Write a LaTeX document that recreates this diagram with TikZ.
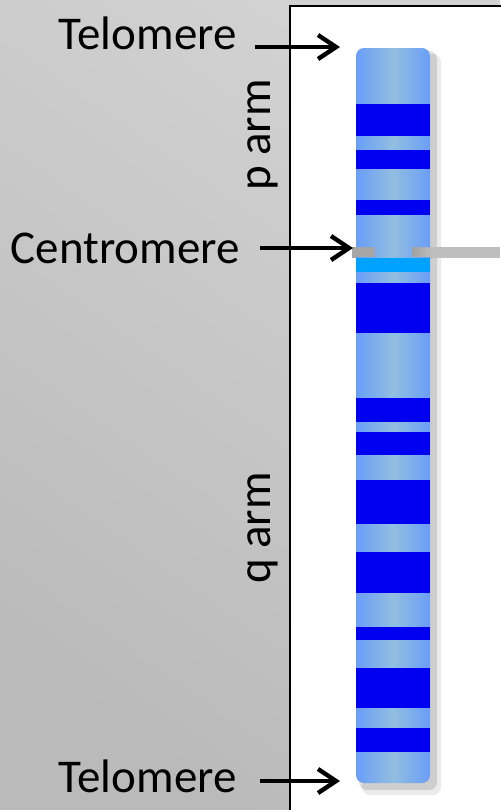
\documentclass[tikz,border=0pt]{standalone}
\usepackage{fontspec}
\setmainfont{Carlito}
\usepackage{xcolor}
\usetikzlibrary{arrows.meta}

\definecolor{bglight}{RGB}{210,210,210}
\definecolor{bgdark}{RGB}{186,186,186}
\definecolor{armedge}{RGB}{106,158,247}
\definecolor{armmid}{RGB}{145,190,224}
\definecolor{band}{RGB}{0,0,240}
\definecolor{cenband}{RGB}{0,162,255}
\definecolor{cenbar}{RGB}{190,190,190}

\tikzset{
  lbl/.style={inner sep=0pt, font=\fontsize{23.5}{28}\selectfont},
  pointer/.style={-{Straight Barb[length=9pt,width=12pt]}, line width=2.2pt},
}

\begin{document}
\begin{tikzpicture}[x=0.5pt,y=-0.5pt]
      \useasboundingbox (0,0) rectangle (500,810);
      \shade[top color=bglight, bottom color=bgdark, shading angle=-35] (0,0) rectangle (500,810);
      \draw[line width=1pt, fill=white] (290,6) rectangle (520,830);

      % shadow and centromere bar
      \fill[black, opacity=.12, rounded corners=4pt] (359,51) rectangle (437,790);
      \fill[black, opacity=.08, rounded corners=4pt] (362,54) rectangle (441,795);
      \fill[cenbar] (352,247) rectangle (500,258);
      \fill[gray!70] (352,247) rectangle (376,258);
      \shade[left color=gray!75, right color=cenbar] (411,247) rectangle (432,258);

      % chromosome with its bands
      \begin{scope}
        \clip (356,40) rectangle (430,247) (375,246) rectangle (412,258) (356,257) rectangle (430,790);
        \shade[left color=armedge, right color=armedge, middle color=armmid, rounded corners=4pt] (356,48) rectangle (430,783);
        \foreach \ya/\yb in {104/136, 150/169, 200/215, 283/333, 398/422, 432/455, 480/524, 552/593, 627/640, 668/708, 728/752}
          \fill[band] (356,\ya) rectangle (430,\yb);
        \fill[cenband] (356,258) rectangle (430,272);
      \end{scope}

      \node[lbl, anchor=base east] at (237,49) (teltop) {Telomere};
      \node[lbl, anchor=base east] at (240,263) (cen) {Centromere};
      \node[lbl, anchor=base east] at (237,792) (telbot) {Telomere};
      \node[lbl, rotate=90] at (263,135) (parm) {p arm};
      \node[lbl, rotate=90] at (263,528) (qarm) {q arm};

      \coordinate (teltip) at (340,47);
      \coordinate (centip) at (353,248);
      \coordinate (telbottip) at (340,781);

      \draw[pointer] ([shift={(18,-2)}]teltop.base east) -- (teltip);
      \draw[pointer] ([shift={(20,-15)}]cen.base east) -- (centip);
      \draw[pointer] ([shift={(23,-11)}]telbot.base east) -- (telbottip);
    \end{tikzpicture}
\end{document}
